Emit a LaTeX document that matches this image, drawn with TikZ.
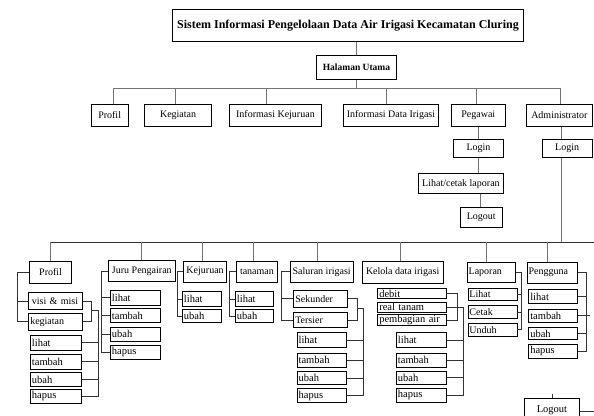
\documentclass[tikz,border=0pt]{standalone}
\usepackage{fontspec}
\setmainfont{Liberation Serif}
\tikzset{
  box/.style={draw=black, line width=0.9pt, inner xsep=1.5pt, inner ysep=0pt, fill=white,
    font=\fontsize{10}{11}\selectfont},
  conn/.style={draw=black!55, line width=0.9pt},
  lconn/.style={draw=black!80, line width=0.8pt},
  ttl/.style={font=\fontsize{12}{13}\selectfont\bfseries},
  hu/.style={font=\fontsize{9.5}{10}\selectfont\bfseries},
  sm/.style={font=\fontsize{10.5}{10.5}\selectfont},
}
% centred box: [opt]{name}{x1}{y1}{x2}{y2}{text}
\newcommand{\cbx}[7][]{%
  \pgfmathsetmacro\bw{#5-#3}\pgfmathsetmacro\bh{#6-#4}%
  \node[box, minimum width=\bw pt, minimum height=\bh pt, anchor=north west, #1] (#2) at (#3,#4) {#7};}
% left aligned box
\newcommand{\lbx}[7][]{%
  \pgfmathsetmacro\bh{#6-#4}\pgfmathsetmacro\tw{#5-#3-3}%
  \node[box, text width=\tw pt, align=left, minimum height=\bh pt, anchor=north west, #1] (#2) at (#3,#4) {#7};}
\begin{document}
\begin{tikzpicture}[x=1pt,y=-1pt]
\useasboundingbox (0,0) rectangle (594,415);
\clip (0,0) rectangle (594,415);

% ---------- top part ----------
\cbx[ttl]{title}{172}{9}{523}{41}{Sistem Informasi Pengelolaan Data Air Irigasi Kecamatan Cluring}
\cbx[hu]{home}{316}{55}{396}{79}{Halaman Utama}
\cbx{m1}{90.7}{104.3}{127.7}{125.7}{Profil}
\cbx{m2}{144.3}{104.3}{211}{125.7}{Kegiatan}
\cbx{m3}{229}{104.3}{321}{125.7}{Informasi Kejuruan}
\cbx{m4}{343.3}{104.3}{437.7}{125.7}{Informasi Data Irigasi}
\cbx{m5}{450.7}{104.3}{505}{125.7}{Pegawai}
\cbx{m6}{526}{104.3}{591.7}{125.7}{Administrator}
\cbx{pl}{452.7}{139}{503.3}{157}{Login}
\cbx{pc}{418.3}{173.3}{502.7}{193.3}{Lihat/cetak laporan}
\cbx{po}{460}{206.7}{501.7}{227.3}{Logout}
\cbx{al}{541.7}{139}{591.7}{157}{Login}

\draw[conn] (home.north) -- (home.north |- title.south);
\coordinate (bL) at (113.3,88.3);
\coordinate (bR) at (560,88.3);
\draw[conn] (home.south) -- (home.south |- bL);
\draw[conn] (bL) -- (bR);
\foreach \n/\x in {m1/113.3, m2/175.7, m3/266.7, m4/386, m5/476, m6/560}{
  \coordinate (t\n) at (\x,88.3);
  \draw[conn] (t\n) -- (t\n |- \n.north);
}
\coordinate (px) at (478,0);
\coordinate (px2) at (480,0);
\coordinate (ax) at (561.5,0);
\draw[conn] (px |- m5.south) -- (px |- pl.north);
\draw[conn] (px |- pl.south) -- (px |- pc.north);
\draw[conn] (px2 |- pc.south) -- (px2 |- po.north);
\draw[conn] (ax |- m6.south) -- (ax |- al.north);

% ---------- lower bus ----------
\coordinate (lbL) at (50.7,242);
\coordinate (lbR) at (594,242);
\draw[conn] (ax |- al.south) -- (ax |- lbL);
\draw[lconn] (lbL) -- (lbR);

% ---------- lower boxes ----------
\cbx{p}{29.3}{260.5}{71}{283.3}{Profil}
\lbx{vm}{28.3}{292}{81.7}{309}{\,visi \& misi}
\lbx{kg}{28.3}{313}{81.7}{329.5}{kegiatan}
\lbx[sm]{pl1}{30}{334.5}{80.7}{350}{lihat}
\lbx[sm]{pt1}{30}{354}{80.7}{368.5}{tambah}
\lbx[sm]{pu1}{30}{372}{80.7}{386}{ubah}
\lbx[sm]{ph1}{30}{389}{80.7}{403}{hapus}

\cbx{jp}{108.3}{260}{174.5}{281}{Juru Pengairan}
\lbx[sm]{jl}{110}{290}{160}{304.5}{lihat}
\lbx[sm]{jt}{110}{308}{160}{322}{tambah}
\lbx[sm]{ju}{110}{326.5}{160}{340.5}{ubah}
\lbx[sm]{jh}{110}{344.5}{160}{358.5}{hapus}

\cbx{kj}{183.3}{260.7}{226}{281.5}{Kejuruan}
\lbx[sm]{ejl}{182}{291}{220.7}{306}{lihat}
\lbx[sm]{eju}{182}{309}{220.7}{322}{ubah}

\cbx{tn}{236}{260.5}{277}{281.5}{tanaman}
\lbx[sm]{tl}{235}{291}{273.3}{306}{lihat}
\lbx[sm]{tu}{235}{309}{273.3}{322}{ubah}

\cbx{si}{289.5}{261}{353}{281.5}{Saluran irigasi}
\lbx{ss}{293.3}{290}{347}{306.7}{Sekunder}
\lbx{st}{293.3}{311.7}{347}{327.3}{Tersier}
\lbx[sm]{sl}{296.7}{331.7}{345.7}{347.3}{lihat}
\lbx[sm]{stt}{296.7}{352.7}{345.7}{366.7}{tambah}
\lbx[sm]{su}{296.7}{370.7}{345.7}{384.3}{ubah}
\lbx[sm]{sh}{296.7}{388.3}{345.7}{402.3}{hapus}

\cbx{kd}{361.7}{260.7}{442.7}{282.7}{Kelola data irigasi}
\lbx[sm]{kdb}{377.3}{288.3}{446}{298.3}{debit}
\lbx[sm]{krt}{377.3}{301.5}{446}{312.3}{real tanam}
\lbx[sm]{kpa}{377.3}{314}{446}{325}{pembagian air}
\lbx[sm]{dl}{396}{331.7}{446}{347.3}{lihat}
\lbx[sm]{dt}{396}{353}{446}{366.7}{tambah}
\lbx[sm]{du}{396}{370.7}{446}{384}{ubah}
\lbx[sm]{dh}{396}{388.3}{446}{401.7}{hapus}

\lbx{lp}{466.7}{261.5}{515}{281.5}{Laporan}
\lbx{lL}{467.5}{287.7}{516.5}{300.3}{Lihat}
\lbx{lC}{467.5}{305}{516.5}{318.3}{Cetak}
\lbx{lU}{467.5}{322.7}{516.5}{336}{Unduh}

\lbx{pg}{526.7}{261.7}{577.3}{283}{Pengguna}
\lbx[sm]{gl}{528.3}{289}{577.3}{303.3}{lihat}
\lbx[sm]{gt}{528.3}{309}{577.3}{321.7}{tambah}
\lbx[sm]{gu}{528.3}{326.7}{577.3}{339.3}{ubah}
\lbx[sm]{gh}{528.3}{344.3}{577.3}{357.7}{hapus}

\cbx[sm]{lo2}{524}{398}{579}{421}{Logout}

% ---------- lower connectors ----------
\foreach \n/\x in {p/50.7, jp/141.7, kj/202.3, tn/253.3, si/317.3, kd/400.7, lp/486, pg/547.7}{
  \coordinate (c\n) at (\x,242);
  \draw[conn] (c\n) -- (c\n |- \n.north);
}

% Profil group
\coordinate (pb) at (17.3,0);
\draw[lconn] (p.west) -- (p.west -| pb) -- (pb |- kg.west) -- (kg.west);
\draw[lconn] (vm.west) -- (vm.west -| pb);
\coordinate (pr1) at (91.7,310);
\coordinate (pr2) at (98.3,310);
\draw[lconn] (vm.east) -| (pr1);
\draw[lconn] (kg.east) -| (pr1);
\draw[lconn] (pr1) -- (pr2) -- (pr2 |- ph1.east) -- (ph1.east);
\foreach \n in {pl1,pt1,pu1}{\draw[lconn] (\n.east) -- (\n.east -| pr2);}

% Juru group
\coordinate (jb) at (101.7,0);
\draw[lconn] (jp.west) -- (jp.west -| jb) -- (jb |- jh.west) -- (jh.west);
\foreach \n in {jl,jt,ju}{\draw[lconn] (\n.west) -- (\n.west -| jb);}

% Kejuruan group
\coordinate (eb) at (177.7,0);
\draw[lconn] (kj.west) -- (kj.west -| eb) -- (eb |- eju.west) -- (eju.west);
\draw[lconn] (ejl.west) -- (ejl.west -| eb);

% tanaman group
\coordinate (tb) at (229.7,0);
\draw[lconn] (tn.west) -- (tn.west -| tb) -- (tb |- tu.west) -- (tu.west);
\draw[lconn] (tl.west) -- (tl.west -| tb);

% Saluran group
\coordinate (sb) at (281.7,0);
\draw[lconn] (si.west) -- (si.west -| sb) -- (sb |- st.west) -- (st.west);
\draw[lconn] (ss.west) -- (ss.west -| sb);
\coordinate (sr1) at (357.3,308.3);
\coordinate (sr2) at (363.3,308.3);
\draw[lconn] (ss.east) -| (sr1);
\draw[lconn] (st.east) -| (sr1);
\draw[lconn] (sr1) -- (sr2) -- (sr2 |- sh.east) -- (sh.east);
\foreach \n in {sl,stt,su}{\draw[lconn] (\n.east) -- (\n.east -| sr2);}

% Kelola group
\coordinate (kb) at (457.3,0);
\coordinate (kj2) at (463.3,0);
\draw[lconn] (kdb.east) -- (kdb.east -| kb) -- (kb |- kpa.east) -- (kpa.east);
\draw[lconn] (krt.east) -- (krt.east -| kj2) -- (kj2 |- dh.east) -- (dh.east);
\foreach \n in {dl,dt,du}{\draw[lconn] (\n.east) -- (\n.east -| kj2);}

% Laporan group
\coordinate (lb) at (521,0);
\draw[lconn] (lp.east) -- (lp.east -| lb) -- (lb |- lU.east) -- (lU.east);
\foreach \n in {lL,lC}{\draw[lconn] (\n.east) -- (\n.east -| lb);}

% Pengguna group
\coordinate (gb) at (586,0);
\coordinate (gs) at (590,0);
\draw[lconn] (pg.east) -- (pg.east -| gb) -- (gb |- gh.east) -- (gh.east);
\foreach \n in {gl,gu}{\draw[lconn] (\n.east) -- (\n.east -| gb);}
\draw[lconn] (gt.east) -- (gt.east -| gs);

% bottom Logout
\coordinate (lot) at (552.3,393.5);
\draw[lconn] (lot) -- (lot |- lo2.north);
\coordinate (lor) at (594,411.7);
\draw[lconn] (lor -| lo2.east) -- (lor);
\end{tikzpicture}
\end{document}
